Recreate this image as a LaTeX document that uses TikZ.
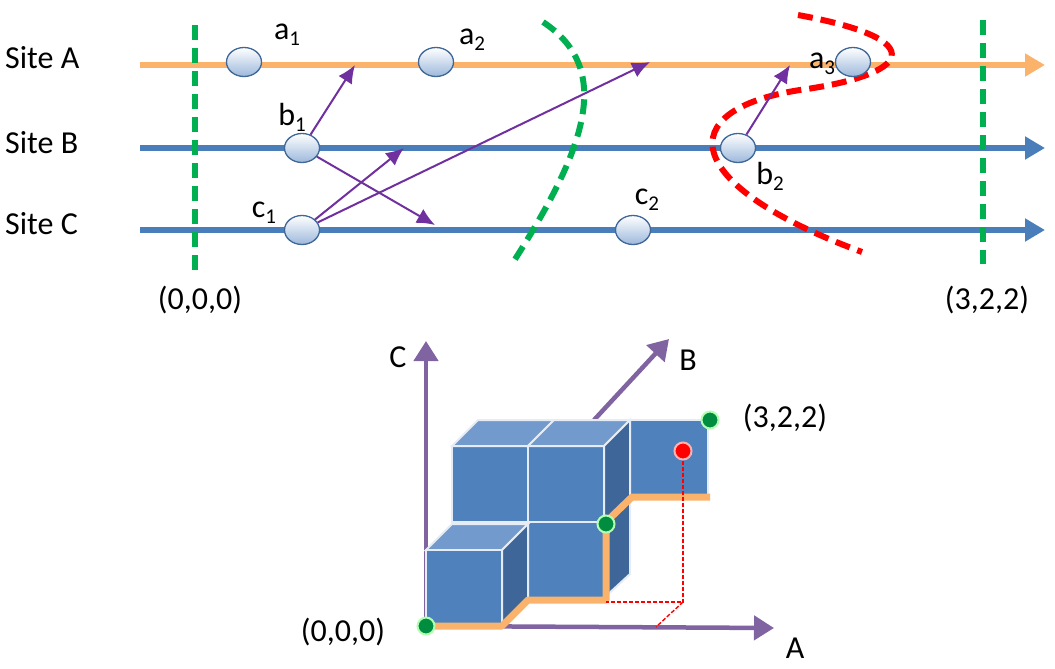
\documentclass[tikz,border=0pt]{standalone}
\usepackage{fontspec}
\setmainfont{Carlito}
\usetikzlibrary{arrows.meta,shapes.geometric}
\definecolor{orA}{HTML}{FBB36B}
\definecolor{blu}{HTML}{4A7EBB}
\definecolor{pur}{HTML}{7030A0}
\definecolor{axp}{HTML}{8064A2}
\definecolor{grn}{HTML}{00B050}
\definecolor{cf}{HTML}{4F81BD}
\definecolor{ct}{HTML}{729ACC}
\definecolor{cs}{HTML}{3F6699}
\newcommand{\sbs}[1]{\raisebox{-6pt}{\fontsize{21}{21}\selectfont #1}}
\begin{document}
\begin{tikzpicture}[x=1pt,y=-1pt,
  lbl/.style={font=\fontsize{32}{36}\selectfont,inner sep=0},
  ev/.style={ellipse,minimum width=35,minimum height=29,draw=cf!80!black,line width=1.3,top color=white,bottom color=ct!70,inner sep=0},
  msg/.style={pur,line width=2,-{Latex[length=18,width=16]}},
  cut/.style={line width=6,dash pattern=on 15pt off 8pt},
  face/.style={draw=white!85!cf,line width=2},
  ax/.style={axp,line width=4.5,-{Triangle[length=20,width=24]}},
  dot/.style={circle,draw=white!70!green,line width=2,inner sep=0,minimum size=17}]
\useasboundingbox (0,0) rectangle (1055,669);
\node[lbl,anchor=west] (sA) at (5,58) {Site A};
\node[lbl,anchor=west] (sB) at (5,143) {Site B};
\node[lbl,anchor=west] (sC) at (5,224) {Site C};
\coordinate (Ae) at (1045,65); \coordinate (As) at (140,65);
\coordinate (Be) at (1045,148); \coordinate (Bs) at (140,148);
\coordinate (Ce) at (1045,230); \coordinate (Cs) at (140,230);
\draw[orA,line width=6,-{Triangle[length=20,width=22]}] (As) -- (Ae);
\draw[blu,line width=6,-{Triangle[length=20,width=22]}] (Bs) -- (Be);
\draw[blu,line width=6,-{Triangle[length=20,width=22]}] (Cs) -- (Ce);
\draw[grn,cut] (195,25) -- (195,270);
\draw[grn,cut] (983,20) -- (983,264);
\draw[grn,cut] (543,22) .. controls (615,70) and (585,150) .. (512,264);
\draw[red,cut] (798,15) .. controls (935,40) and (910,75) .. (800,90) .. controls (670,110) and (680,185) .. (862,252);
\node[ev] (a1) at (244,62) {}; \node[ev] (a2) at (436,62) {}; \node[ev] (a3) at (853,62) {};
\node[ev] (b1) at (302,148) {}; \node[ev] (b2) at (738,148) {};
\node[ev] (c1) at (302,230) {}; \node[ev] (c2) at (633,230) {};
\node[lbl] (la1) at (287,35) {a\sbs{1}};
\node[lbl] (la2) at (472,40) {a\sbs{2}};
\node[lbl] (la3) at (822,64) {a\sbs{3}};
\node[lbl] (lb1) at (292,117) {b\sbs{1}};
\node[lbl] (lb2) at (770,176) {b\sbs{2}};
\node[lbl] (lc1) at (264,213) {c\sbs{1}};
\node[lbl] (lc2) at (647,200) {c\sbs{2}};
\coordinate (m1) at (355,65); \coordinate (m2) at (435,225);
\coordinate (m3) at (404,148); \coordinate (m4) at (650,62); \coordinate (m5) at (790,65);
\draw[msg] (b1) -- (m1); \draw[msg] (b1) -- (m2);
\draw[msg] (c1) -- (m3); \draw[msg] (c1) -- (m4);
\draw[msg] (b2) -- (m5);
\node[lbl] (o1) at (200,300) {(0,0,0)};
\node[lbl] (o2) at (987,300) {(3,2,2)};
\coordinate (O) at (426,626);
\coordinate (Cax) at (426,341); \coordinate (Aax) at (774,628);
\coordinate (Bs0) at (594,420); \coordinate (Bax) at (669,339);
\draw[ax] (O) -- (Cax);
\draw[ax] (O) -- (Aax);
\draw[ax] (Bs0) -- (Bax);
\foreach \x in {452,528} {
  \draw[face,fill=cf] (\x,446) rectangle (\x+76,522);
  \draw[face,fill=ct] (\x,446) -- (\x+26,420) -- (\x+102,420) -- (\x+76,446) -- cycle;
}
\draw[face,fill=cf] (630,420) rectangle (708,497);
\draw[face,fill=cs] (604,446) -- (630,420) -- (630,574) -- (604,598) -- cycle;
\draw[face,fill=cf] (528,522) rectangle (604,598);
\draw[face,fill=ct] (426,550) -- (452,524) -- (528,524) -- (502,550) -- cycle;
\draw[face,fill=cs] (502,550) -- (528,524) -- (528,598) -- (502,626) -- cycle;
\draw[face,fill=cf] (426,550) rectangle (502,626);
\draw[orA,line width=7,line join=round] (426,626) -- (502,626) -- (528,600) -- (606,600) -- (606,522) -- (632,497) -- (710,497);
\coordinate (rp) at (683,602);
\coordinate (rq) at (606,602);
\coordinate (rr) at (656,627);
\node[dot,draw=white!70!red,fill=red] (red) at (683,451) {};
\draw[red,dash pattern=on 4pt off 2pt,line width=1.4] (red) -- (rp) -- (rq);
\draw[red,dash pattern=on 4pt off 2pt,line width=1.4] (rp) -- (rr);
\node[dot,fill=grn!80!black] (g0) at (O) {};
\node[dot,fill=grn!80!black] (g1) at (606,524) {};
\node[dot,fill=grn!80!black] (g2) at (710,420) {};
\node[lbl] (lC) at (398,357) {C};
\node[lbl] (lB) at (688,360) {B};
\node[lbl] (lA) at (795,648) {A};
\node[lbl] (l322) at (785,418) {(3,2,2)};
\node[lbl] (l000) at (343,632) {(0,0,0)};
\end{tikzpicture}
\end{document}
